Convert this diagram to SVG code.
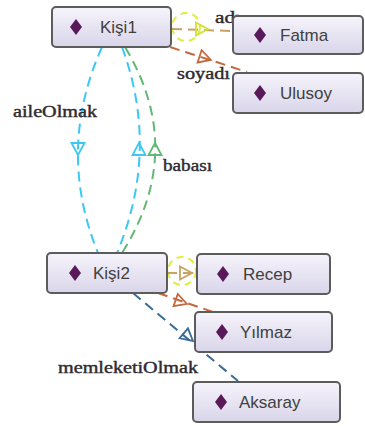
<svg xmlns="http://www.w3.org/2000/svg" width="365" height="426" viewBox="0 0 365 426">
<defs>
<linearGradient id="nodeFill" x1="0" y1="0" x2="0" y2="1">
<stop offset="0" stop-color="#f6f4fb"/>
<stop offset="1" stop-color="#d9d5ea"/>
</linearGradient>
<path id="tri" d="M0,0 L-12,-6.5 L-12,6.5 Z"/>
<path id="dia" d="M0,-8 L6,0 L0,8 L-6,0 Z"/>
</defs>
<style>
.node rect{fill:url(#nodeFill);stroke:#5c5c5c;stroke-width:2}
.node .d{fill:#5a1a5a}
.node text{font-family:"Liberation Sans",Arial,sans-serif;font-size:17px;fill:#404040}
.e{fill:none;stroke-width:2;stroke-dasharray:10,6}
.a{fill:none;stroke-width:1.8}
.lbl{font-family:"Liberation Serif","Times New Roman",serif;font-size:16px;fill:#2e2a30;stroke:#2e2a30;stroke-width:0.4}
.cyan{stroke:#3cc8f2}
.green{stroke:#62b874}
.tan{stroke:#c8a262}
.brown{stroke:#c4683e}
.navy{stroke:#3a6a96}
.yel{stroke:#dcef3a;fill:none;stroke-width:2;stroke-dasharray:7,5}
</style>
<rect width="365" height="426" fill="#ffffff"/>
<g id="connectors">
<circle class="yel" cx="186" cy="27" r="14"/>
<circle class="yel" cx="182" cy="271" r="14"/>
<path class="e cyan" d="M102,47 Q56,150 98,253"/>
<path class="e cyan" d="M122,47 Q160,150 117,253"/>
<path class="e green" d="M125,47 Q187,150 122,253"/>
<path class="e tan" d="M172,29 L233,31"/>
<path class="e brown" d="M170,47 L247,72"/>
<path class="e tan" d="M167,273 L197,273"/>
<path class="e brown" d="M158,293 L213,312"/>
<path class="e navy" d="M133,293 L238,381"/>
<use href="#tri" class="a" stroke="#cfe236" transform="translate(208,29)"/>
<use href="#tri" class="a brown" transform="translate(211,60) rotate(18)"/>
<use href="#tri" class="a cyan" transform="translate(78,155) rotate(90)"/>
<use href="#tri" class="a cyan" transform="translate(139,143) rotate(-90)"/>
<use href="#tri" class="a green" transform="translate(155,143) rotate(-90)"/>
<use href="#tri" class="a tan" transform="translate(192,273)"/>
<use href="#tri" class="a brown" transform="translate(187,304) rotate(19)"/>
<use href="#tri" class="a navy" transform="translate(193,341) rotate(40)"/>
<text class="lbl" x="215" y="23" textLength="26" lengthAdjust="spacingAndGlyphs">adı</text>
<text class="lbl" x="177" y="79" textLength="53" lengthAdjust="spacingAndGlyphs">soyadı</text>
<text class="lbl" x="13" y="117" textLength="84" lengthAdjust="spacingAndGlyphs">aileOlmak</text>
<text class="lbl" x="163" y="171" textLength="49" lengthAdjust="spacingAndGlyphs">babası</text>
<text class="lbl" x="58" y="373" textLength="140" lengthAdjust="spacingAndGlyphs">memleketiOlmak</text>
</g>
<g id="kisi1" class="node">
<rect x="52" y="7" width="119" height="40" rx="4"/>
<use href="#dia" class="d" x="76" y="27"/>
<text x="100" y="33">Kişi1</text>
</g>
<g id="fatma" class="node">
<rect x="233" y="16" width="130" height="38" rx="4"/>
<use href="#dia" class="d" x="260" y="35"/>
<text x="280" y="41">Fatma</text>
</g>
<g id="ulusoy" class="node">
<rect x="233" y="73" width="130" height="40" rx="4"/>
<use href="#dia" class="d" x="260" y="93"/>
<text x="280" y="99">Ulusoy</text>
</g>
<g id="kisi2" class="node">
<rect x="47" y="253" width="120" height="40" rx="4"/>
<use href="#dia" class="d" x="75" y="273"/>
<text x="93" y="279">Kişi2</text>
</g>
<g id="recep" class="node">
<rect x="197" y="254" width="133" height="40" rx="4"/>
<use href="#dia" class="d" x="223" y="274"/>
<text x="243" y="280">Recep</text>
</g>
<g id="yilmaz" class="node">
<rect x="195" y="312" width="137" height="40" rx="4"/>
<use href="#dia" class="d" x="222" y="332"/>
<text x="240" y="338">Yılmaz</text>
</g>
<g id="aksaray" class="node">
<rect x="193" y="382" width="147" height="40" rx="4"/>
<use href="#dia" class="d" x="221" y="402"/>
<text x="239" y="408">Aksaray</text>
</g>
</svg>
